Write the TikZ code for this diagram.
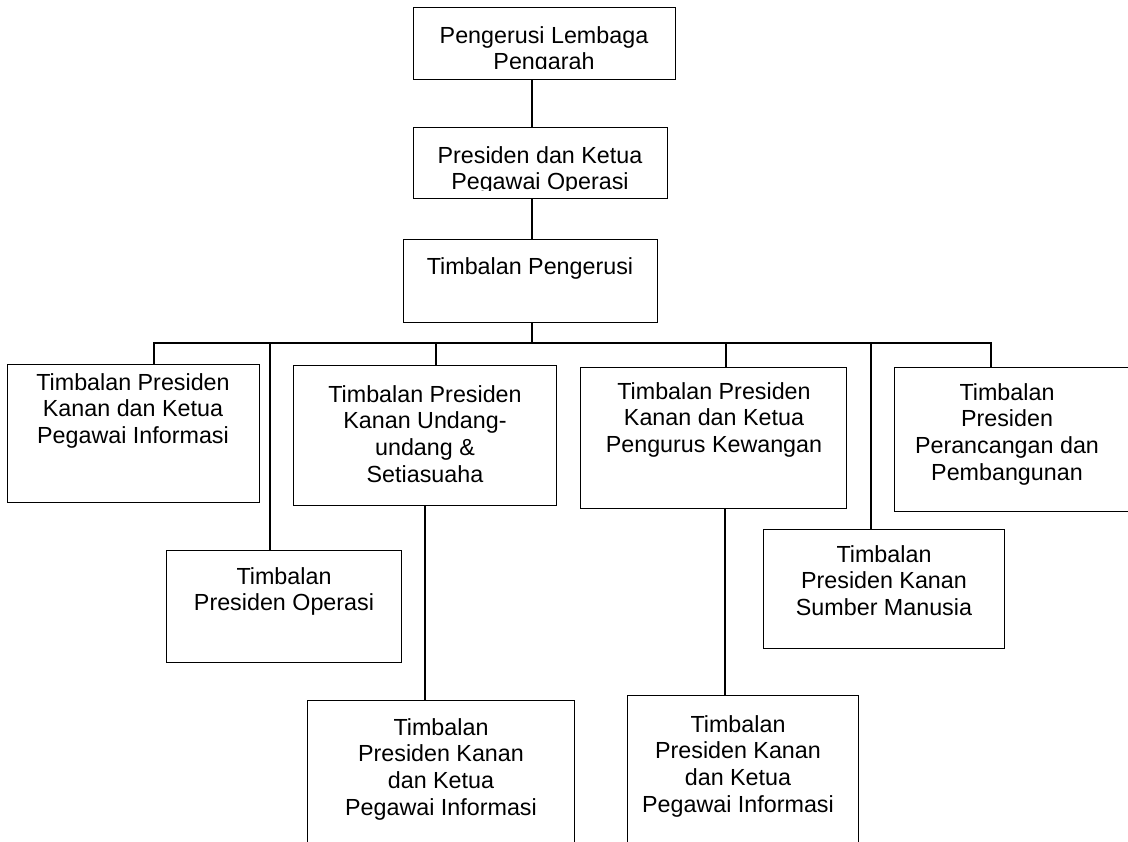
\documentclass[tikz,border=0pt]{standalone}
\usepackage{fontspec}
\setmainfont{Liberation Sans}
\begin{document}
\begin{tikzpicture}[x=1pt,y=-1pt,
  box/.style={draw, line width=1.2pt, inner sep=0pt, anchor=north west},
  lbl/.style={anchor=north, inner sep=0pt, align=center, font=\fontsize{23.3}{26.7}\selectfont},
  conn/.style={line width=1.2pt}]
\useasboundingbox (0,0) rectangle (1128,842);
% top chain
\node[box, minimum width=262pt, minimum height=72pt] (p1) at (413,7) {};
\node[box, minimum width=254pt, minimum height=71pt] (p2) at (413,127) {};
\node[box, minimum width=254pt, minimum height=83pt] (p3) at (403,239) {};
\begin{scope}
\clip (413,7) rectangle (675,69);
\node[lbl] (p1t) at (544,26) {Pengerusi Lembaga\\Pengarah};
\end{scope}
\begin{scope}
\clip (413,127) rectangle (667,191);
\node[lbl] (p2t) at (540,146) {Presiden dan Ketua\\Pegawai Operasi};
\end{scope}
\node[lbl] (p3t) at (530,257) {Timbalan Pengerusi};
% second row
\node[box, minimum width=252pt, minimum height=138pt] (a) at (7,364) {};
\node[lbl] (at) at (133,373) {Timbalan Presiden\\Kanan dan Ketua\\Pegawai Informasi};
\node[box, minimum width=263pt, minimum height=140pt] (b) at (293,365) {};
\node[lbl] (bt) at (425,385) {Timbalan Presiden\\Kanan Undang-\\undang \&\\Setiasuaha};
\node[box, minimum width=266pt, minimum height=141pt] (c) at (580,367) {};
\node[lbl] (ct) at (714,382) {Timbalan Presiden\\Kanan dan Ketua\\Pengurus Kewangan};
\node[box, minimum width=250pt, minimum height=144pt] (d) at (894,367) {};
\node[lbl] (dt) at (1007,383) {Timbalan\\Presiden\\Perancangan dan\\Pembangunan};
% third row
\node[box, minimum width=235pt, minimum height=112pt] (e) at (166,550) {};
\node[lbl] (et) at (284,567) {Timbalan\\Presiden Operasi};
\node[box, minimum width=241pt, minimum height=119pt] (f) at (763,529) {};
\node[lbl] (ft) at (884,545) {Timbalan\\Presiden Kanan\\Sumber Manusia};
% bottom row
\node[box, minimum width=267pt, minimum height=170pt] (g) at (307,700) {};
\node[lbl] (gt) at (441,718) {Timbalan\\Presiden Kanan\\dan Ketua\\Pegawai Informasi};
\node[box, minimum width=231pt, minimum height=170pt] (h) at (627,695) {};
\node[lbl] (ht) at (738,715) {Timbalan\\Presiden Kanan\\dan Ketua\\Pegawai Informasi};
% connectors
\coordinate (tx) at (532,0);
\coordinate (busL) at (154,343);
\coordinate (busR) at (991,343);
\coordinate (xb) at (436,343);
\coordinate (xc) at (726,343);
\coordinate (xe) at (270,343);
\coordinate (xf) at (871,343);
\coordinate (xg) at (425,0);
\coordinate (xh) at (725,0);
\draw[conn] (p1.south -| tx) -- (p2.north -| tx);
\draw[conn] (p2.south -| tx) -- (p3.north -| tx);
\draw[conn] (p3.south -| tx) -- (busL -| tx);
\draw[conn] (a.north -| busL) -- (busL) -- (busR) -- (d.north -| busR);
\draw[conn] (xb) -- (b.north -| xb);
\draw[conn] (xc) -- (c.north -| xc);
\draw[conn] (xe) -- (e.north -| xe);
\draw[conn] (xf) -- (f.north -| xf);
\draw[conn] (b.south -| xg) -- (g.north -| xg);
\draw[conn] (c.south -| xh) -- (h.north -| xh);
\end{tikzpicture}
\end{document}
